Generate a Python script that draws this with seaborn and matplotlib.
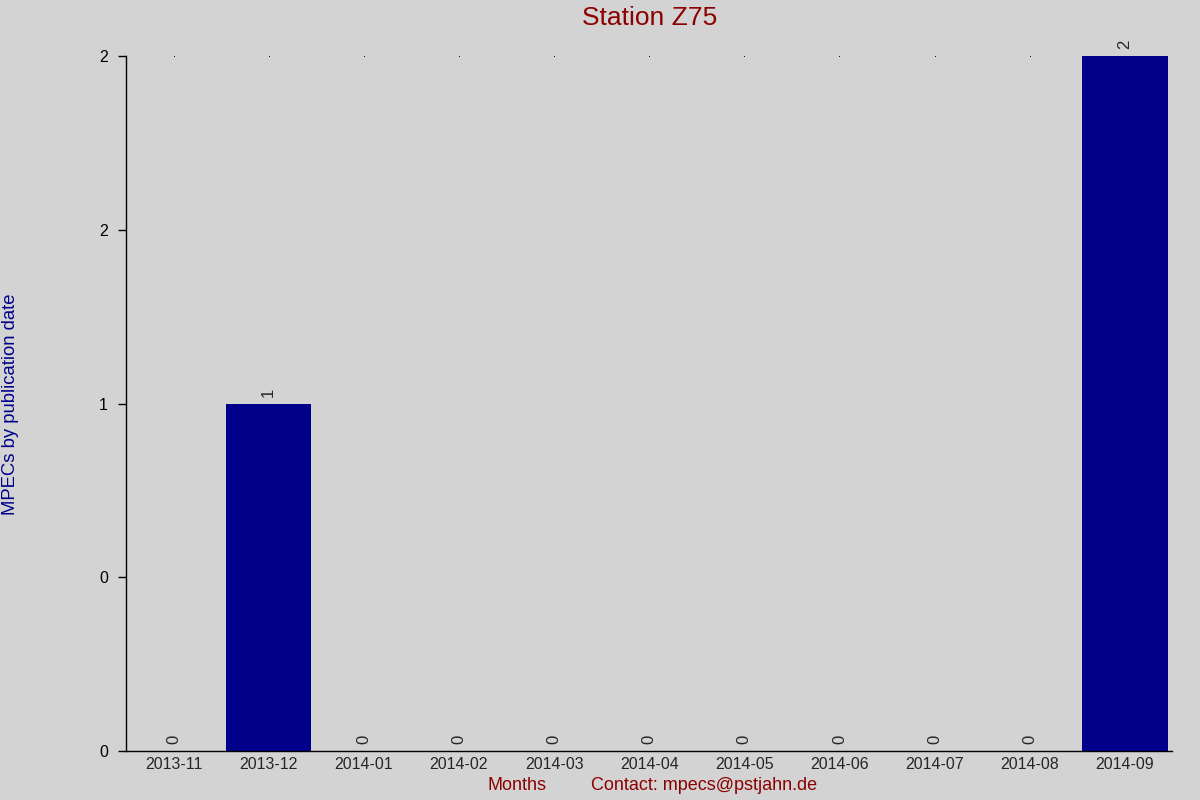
import seaborn as sns
import matplotlib.pyplot as plt
from matplotlib.ticker import FormatStrFormatter

months = ['2013-11', '2013-12', '2014-01', '2014-02', '2014-03', '2014-04',
          '2014-05', '2014-06', '2014-07', '2014-08', '2014-09']
counts = [0, 1, 0, 0, 0, 0, 0, 0, 0, 0, 2]
y_ticks = [0, 0.5, 1, 1.5, 2]

sns.set_style('ticks')
plt.rcParams['font.family'] = ['Liberation Sans', 'DejaVu Sans']

fig = plt.figure(figsize=(12, 8), dpi=100, facecolor='#d3d3d3')
ax = fig.add_axes([0.105, 0.061, 0.872, 0.869])
ax.set_facecolor('#d3d3d3')

# small dots along the top line
ax.scatter(range(len(months)), [max(counts)] * len(months), s=0.6, color='black', zorder=1, linewidths=0)
sns.barplot(x=months, y=counts, color='#00008b', saturation=1, width=0.9, ax=ax, zorder=2,
            edgecolor='none', linewidth=0)
ax.bar_label(ax.containers[0], rotation=90, padding=5, fontsize=12)

ax.set_xlim(-0.5, len(months) - 0.5)
ax.set_ylim(0, max(counts))
ax.set_yticks(y_ticks)
ax.yaxis.set_major_formatter(FormatStrFormatter('%.0f'))
ax.tick_params(axis='y', length=6, width=1, pad=7, labelsize=11.5, colors='black')
ax.tick_params(axis='x', length=0, pad=4, labelsize=11.5)
for s in ['top', 'right']:
    ax.spines[s].set_visible(False)
for s in ['left', 'bottom']:
    ax.spines[s].set_linewidth(1)
    ax.spines[s].set_color('black')
ax.set_xlabel('')
ax.set_ylabel('')

ax.set_title('Station Z75', color='#8b0000', fontsize=19, pad=22)
fig.text(11 / 1200, 1 - 404 / 800, 'MPECs by publication date', rotation=90,
         ha='center', va='center', color='#00008b', fontsize=13.3)
fig.text(517 / 1200, 1 - 786 / 800, 'Months', ha='center', va='center', color='#8b0000', fontsize=13)
fig.text(704 / 1200, 1 - 786 / 800, 'Contact: mpecs@pstjahn.de', ha='center', va='center',
         color='#8b0000', fontsize=13)

fig.savefig('out.png', dpi=100, facecolor=fig.get_facecolor())
